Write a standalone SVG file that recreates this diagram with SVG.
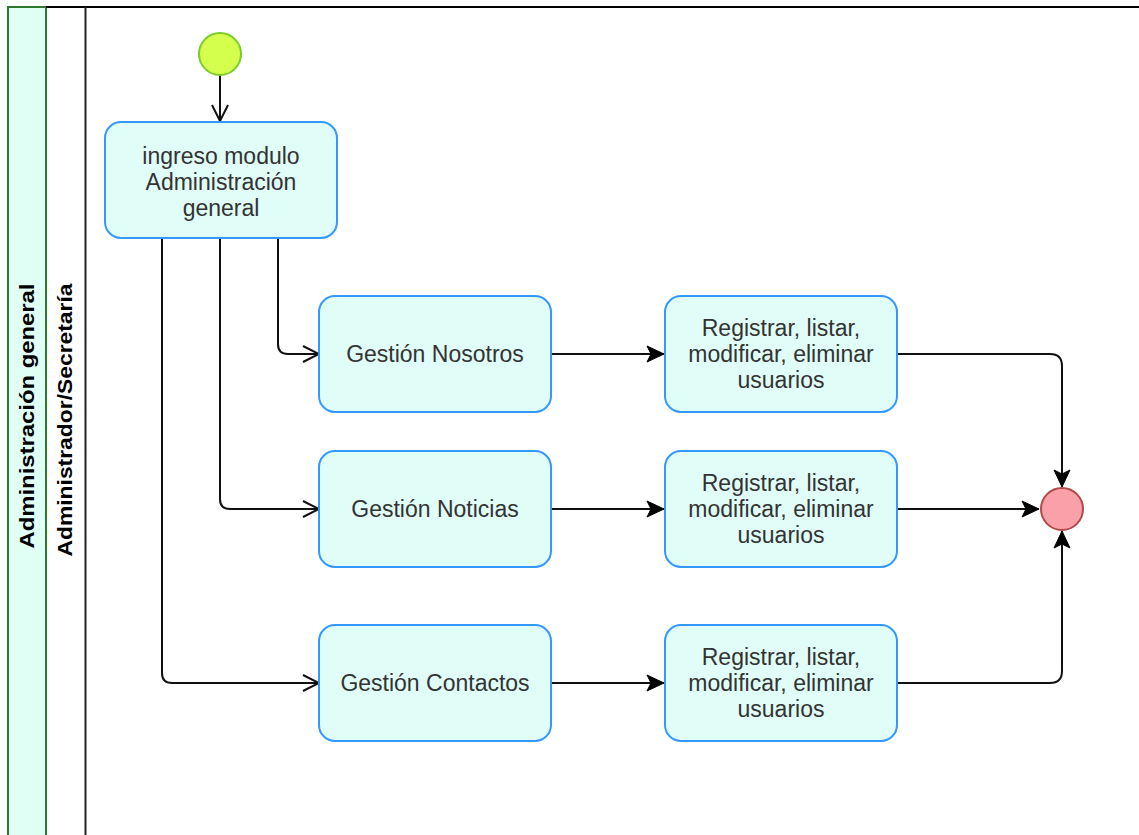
<svg xmlns="http://www.w3.org/2000/svg" width="1139" height="835" viewBox="0 0 1139 835">
<defs>
<style>
.box{fill:#e0fdf8;stroke:#3399ff;stroke-width:2}
.t{font-family:"Liberation Sans",Arial,sans-serif;font-size:23px;fill:#333;text-anchor:middle}
.lane{font-family:"Liberation Sans",Arial,sans-serif;font-size:21px;font-weight:bold;fill:#000;text-anchor:middle}
.c{fill:none;stroke:#111;stroke-width:2}
</style>
<marker id="open" viewBox="0 0 20 20" refX="18" refY="10" markerWidth="20" markerHeight="20" markerUnits="userSpaceOnUse" orient="auto">
<path d="M2,2 L18,10 L2,18" fill="none" stroke="#111" stroke-width="2"/>
</marker>
<marker id="fill" viewBox="0 0 20 20" refX="18" refY="10" markerWidth="20" markerHeight="20" markerUnits="userSpaceOnUse" orient="auto">
<path d="M1,2 L18,10 L1,18 L5,10 Z" fill="#000" stroke="#000" stroke-width="1"/>
</marker>
</defs>
<rect width="1139" height="835" fill="#fff"/>
<g id="pool">
<rect x="8" y="7" width="38" height="840" fill="#e0fff5" stroke="#2d7a2d" stroke-width="2"/>
<line x1="46" y1="7" x2="1139" y2="7" stroke="#000" stroke-width="2"/>
<line x1="85.5" y1="7" x2="85.5" y2="835" stroke="#222" stroke-width="2"/>
<text class="lane" transform="translate(34,416) rotate(-90)" textLength="265" lengthAdjust="spacingAndGlyphs">Administración general</text>
<text class="lane" transform="translate(72,420) rotate(-90)" textLength="273" lengthAdjust="spacingAndGlyphs">Administrador/Secretaría</text>
</g>
<g id="connectors">
<line class="c" x1="220" y1="75" x2="220" y2="121" marker-end="url(#open)"/>
<path class="c" d="M278,238 V344 Q278,354 288,354 H319" marker-end="url(#open)"/>
<path class="c" d="M220,238 V499 Q220,509 230,509 H319" marker-end="url(#open)"/>
<path class="c" d="M162,238 V673 Q162,683 172,683 H319" marker-end="url(#open)"/>
<line class="c" x1="551" y1="354" x2="664" y2="354" marker-end="url(#fill)"/>
<line class="c" x1="551" y1="509" x2="664" y2="509" marker-end="url(#fill)"/>
<line class="c" x1="551" y1="683" x2="664" y2="683" marker-end="url(#fill)"/>
<path class="c" d="M897,354 H1050 Q1062,354 1062,366 V487" marker-end="url(#fill)"/>
<line class="c" x1="897" y1="509" x2="1039" y2="509" marker-end="url(#fill)"/>
<path class="c" d="M897,683 H1050 Q1062,683 1062,671 V531" marker-end="url(#fill)"/>
</g>
<g id="start"><circle cx="220" cy="54" r="21" fill="#d4ff4d" stroke="#7acc29" stroke-width="2"/></g>
<g id="ingreso">
<rect class="box" x="105" y="122" width="232" height="116" rx="16"/>
<text class="t" x="221" y="164">ingreso modulo</text>
<text class="t" x="221" y="190">Administración</text>
<text class="t" x="221" y="216">general</text>
</g>
<g id="nosotros">
<rect class="box" x="319" y="296" width="232" height="116" rx="16"/>
<text class="t" x="435" y="362">Gestión Nosotros</text>
</g>
<g id="noticias">
<rect class="box" x="319" y="451" width="232" height="116" rx="16"/>
<text class="t" x="435" y="517">Gestión Noticias</text>
</g>
<g id="contactos">
<rect class="box" x="319" y="625" width="232" height="116" rx="16"/>
<text class="t" x="435" y="691">Gestión Contactos</text>
</g>
<g id="reg1">
<rect class="box" x="665" y="296" width="232" height="116" rx="16"/>
<text class="t" x="781" y="336">Registrar, listar,</text>
<text class="t" x="781" y="362">modificar, eliminar</text>
<text class="t" x="781" y="388">usuarios</text>
</g>
<g id="reg2">
<rect class="box" x="665" y="451" width="232" height="116" rx="16"/>
<text class="t" x="781" y="491">Registrar, listar,</text>
<text class="t" x="781" y="517">modificar, eliminar</text>
<text class="t" x="781" y="543">usuarios</text>
</g>
<g id="reg3">
<rect class="box" x="665" y="625" width="232" height="116" rx="16"/>
<text class="t" x="781" y="665">Registrar, listar,</text>
<text class="t" x="781" y="691">modificar, eliminar</text>
<text class="t" x="781" y="717">usuarios</text>
</g>
<g id="end"><circle cx="1062" cy="509" r="21" fill="#f9a0a8" stroke="#b04a4a" stroke-width="2"/></g>
</svg>
